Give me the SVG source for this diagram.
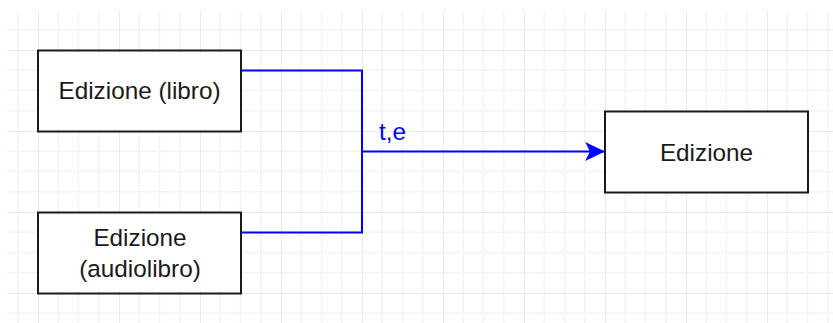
<svg xmlns="http://www.w3.org/2000/svg" width="833" height="323" viewBox="0 0 833 323">
  <style>
    .box { fill: #ffffff; stroke: #1a1a1a; stroke-width: 2; }
    .lbl { font-family: "Liberation Sans", Arial, sans-serif; font-size: 24.3px; fill: #1a1a1a; text-anchor: middle; }
    .edge { fill: none; stroke: #0000ff; stroke-width: 2; }
    .elbl { font-family: "Liberation Sans", Arial, sans-serif; font-size: 24.3px; fill: #0000ff; }
  </style>
  <defs>
    <pattern id="grid" patternUnits="userSpaceOnUse" x="38" y="50" width="81" height="81">
      <path d="M20.25 0V81M40.5 0V81M60.75 0V81M0 20.25H81M0 40.5H81M0 60.75H81" stroke="#f3f3f3" stroke-width="1.5" fill="none"/>
      <path d="M0 0V81M0 0H81" stroke="#e4e4e4" stroke-width="1.5" fill="none"/>
    </pattern>
    <marker id="arrow" markerUnits="userSpaceOnUse" markerWidth="20" markerHeight="20" viewBox="0 0 17 16" refX="16" refY="8" orient="auto">
      <path d="M0 0L17 8L0 16L4 8Z" fill="#0000ff"/>
    </marker>
  </defs>
  <rect width="833" height="323" fill="#ffffff"/>
  <rect x="7" y="11" width="826" height="312" fill="url(#grid)"/>
  <g id="connectors">
    <path class="edge" d="M241 70.5H362V232.5H241V252.5"/>
    <path class="edge" d="M362 151.5H604" marker-end="url(#arrow)"/>
    <text class="elbl" x="379" y="140">t,e</text>
  </g>
  <g id="node-libro">
    <rect class="box" x="38" y="50.5" width="203" height="81"/>
    <text class="lbl" x="139.5" y="99">Edizione (libro)</text>
  </g>
  <g id="node-audiolibro">
    <rect class="box" x="38" y="212.5" width="203" height="81"/>
    <text class="lbl" x="140" y="245.5">Edizione</text>
    <text class="lbl" x="140" y="276.5">(audiolibro)</text>
  </g>
  <g id="node-edizione">
    <rect class="box" x="605" y="111.5" width="203" height="81"/>
    <text class="lbl" x="706.5" y="160.5">Edizione</text>
  </g>
</svg>
